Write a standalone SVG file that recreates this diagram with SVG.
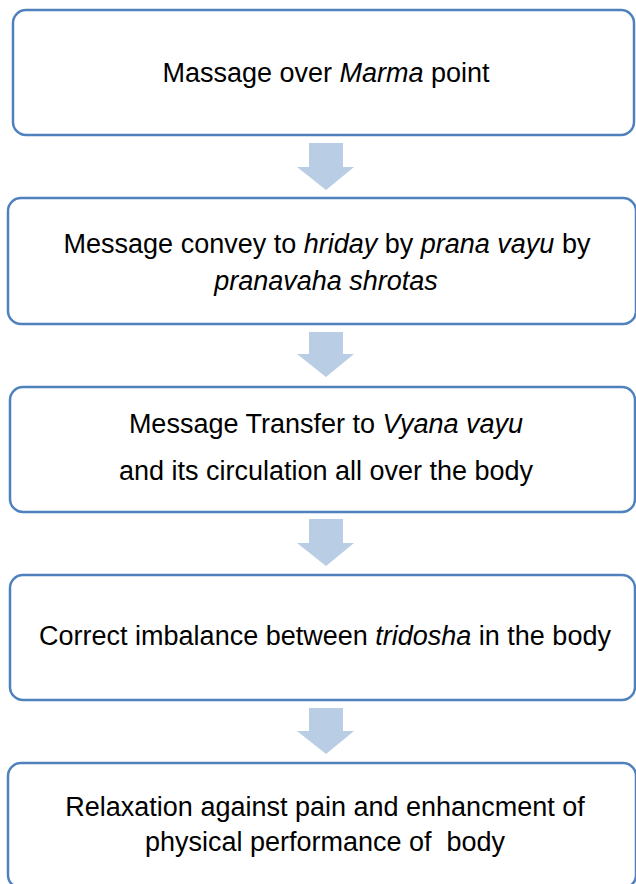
<svg xmlns="http://www.w3.org/2000/svg" width="636" height="884" viewBox="0 0 636 884">
<style>
.box{fill:#fff;stroke:#4F81BD;stroke-width:2.5}
.t{font-family:"Liberation Sans",Arial,sans-serif;font-size:27px;fill:#000;text-anchor:middle}
.i{font-style:italic}
.arr{fill:#B9CDE5}
</style>
<rect width="636" height="884" fill="#fff"/>
<g id="node1">
<rect class="box" x="13" y="10" width="621" height="125" rx="13"/>
<text class="t" x="326" y="82">Massage over <tspan class="i">Marma</tspan> point</text>
</g>
<g id="node2">
<rect class="box" x="8" y="198" width="628" height="126" rx="13"/>
<text class="t" x="327" y="253">Message convey to <tspan class="i">hriday</tspan> by <tspan class="i">prana vayu</tspan> by</text>
<text class="t i" x="326" y="290">pranavaha shrotas</text>
</g>
<g id="node3">
<rect class="box" x="10" y="387" width="625" height="125" rx="13"/>
<text class="t" x="326" y="433">Message Transfer to <tspan class="i">Vyana vayu</tspan></text>
<text class="t" x="326" y="480">and its circulation all over the body</text>
</g>
<g id="node4">
<rect class="box" x="10" y="575" width="625" height="125" rx="13"/>
<text class="t" x="325" y="645">Correct imbalance between <tspan class="i">tridosha</tspan> in the body</text>
</g>
<g id="node5">
<rect class="box" x="8" y="763" width="628" height="125" rx="13"/>
<text class="t" x="325" y="816">Relaxation against pain and enhancment of</text>
<text class="t" x="325" y="851" xml:space="preserve">physical performance of  body</text>
</g>
<g id="connectors">
<polygon class="arr" points="309,143 343,143 343,167 354,167 326,190 297,167 309,167"/>
<polygon class="arr" points="309,332 343,332 343,354 354,354 326,377 297,354 309,354"/>
<polygon class="arr" points="309,519 343,519 343,543 354,543 326,566 297,543 309,543"/>
<polygon class="arr" points="309,708 343,708 343,731 354,731 326,754 297,731 309,731"/>
</g>
</svg>
